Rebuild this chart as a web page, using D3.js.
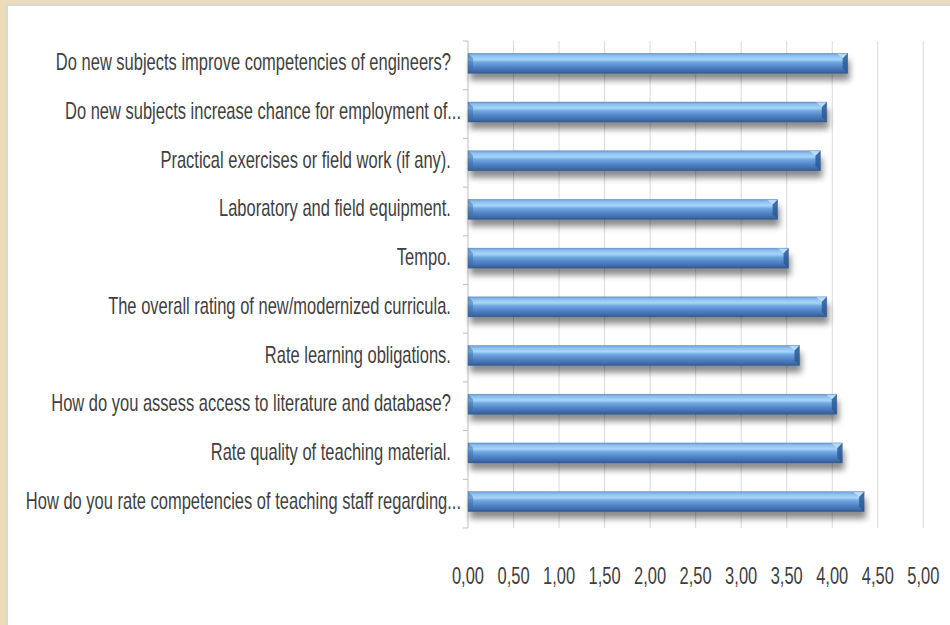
<!DOCTYPE html>
<html><head><meta charset="utf-8">
<script src="https://cdn.jsdelivr.net/npm/d3@7/dist/d3.min.js"></script>
<style>
html,body{margin:0;padding:0;background:#fff;}
svg{display:block;}
text{font-family:"Liberation Sans Narrow","Liberation Sans",Arial,sans-serif;fill:#3f3f3f;}
</style></head>
<body>
<script>
const categories = [
  "Do new subjects improve competencies of engineers? ",
  "Do new subjects increase chance for employment of...",
  "Practical exercises or field work (if any). ",
  "Laboratory and field equipment. ",
  "Tempo. ",
  "The overall rating of new/modernized curricula. ",
  "Rate learning obligations. ",
  "How do you assess access to literature and database? ",
  "Rate quality of teaching material. ",
  "How do you rate competencies of teaching staff regarding..."
];
const values = [4.17, 3.94, 3.87, 3.40, 3.52, 3.94, 3.64, 4.05, 4.11, 4.35];
const tickValues = [0, 0.5, 1, 1.5, 2, 2.5, 3, 3.5, 4, 4.5, 5];
const tickLabels = ["0,00","0,50","1,00","1,50","2,00","2,50","3,00","3,50","4,00","4,50","5,00"];

const W = 950, H = 625;
const svg = d3.select("body").append("svg").attr("width", W).attr("height", H);
const defs = svg.append("defs");

// frame
svg.append("rect").attr("x",0).attr("y",0).attr("width",W).attr("height",H).attr("fill","#ebdcb9");
svg.append("rect").attr("x",6).attr("y",4).attr("width",W-6).attr("height",H-4).attr("fill","#d9d9d9");
svg.append("rect").attr("x",8).attr("y",6).attr("width",W-8).attr("height",H-6).attr("fill","#ffffff");

const pL = 468, pR = 923.3, pT = 41, pB = 528;
const x = d3.scaleLinear().domain([0,5]).range([pL,pR]);
const y = d3.scaleBand().domain(categories).range([pT,pB]).paddingInner(0.59).paddingOuter(0.295);

// gradients
const g1 = defs.append("linearGradient").attr("id","barGrad").attr("x1",0).attr("y1",0).attr("x2",0).attr("y2",1);
[[0,"#6f9fd8"],[0.12,"#8cc0ee"],[0.3,"#a6d6fb"],[0.45,"#6fa6e0"],[0.7,"#4f82c4"],[0.9,"#3d6aa8"],[1,"#2f5690"]]
  .forEach(([o,c])=>g1.append("stop").attr("offset",o).attr("stop-color",c));
const blur = defs.append("filter").attr("id","shadow").attr("x","-10%").attr("y","-50%").attr("width","120%").attr("height","250%");
blur.append("feGaussianBlur").attr("stdDeviation",3);

// gridlines
svg.append("g").selectAll("line").data(tickValues.slice(1)).join("line")
  .attr("x1",d=>x(d)).attr("x2",d=>x(d)).attr("y1",pT).attr("y2",pB)
  .attr("stroke","#d9d9d9").attr("stroke-width",1);

// category axis line and ticks
const bands = d3.range(categories.length+1).map(i=>pT + i*(pB-pT)/categories.length);
svg.append("line").attr("x1",pL).attr("x2",pL).attr("y1",pT).attr("y2",pB).attr("stroke","#bfbfbf");
svg.append("g").selectAll("line").data(bands).join("line")
  .attr("x1",pL-5).attr("x2",pL).attr("y1",d=>d).attr("y2",d=>d).attr("stroke","#bfbfbf");

// bars
const bh = 20;
const bars = svg.append("g").selectAll("g").data(categories).join("g");
const yc = (c)=> y(c) + y.bandwidth()/2 - 2;
bars.append("rect").attr("x",pL+2).attr("y",(c)=>yc(c)-bh/2+7)
  .attr("width",(c,i)=>x(values[i])-pL).attr("height",bh)
  .attr("fill","#000").attr("opacity",0.45).attr("filter","url(#shadow)");
bars.append("rect").attr("x",pL).attr("y",c=>yc(c)-bh/2)
  .attr("width",(c,i)=>x(values[i])-pL).attr("height",bh)
  .attr("fill","url(#barGrad)");
// bevel end caps
const bv = 5;
bars.append("path").attr("d",(c,i)=>{
  const xe = x(values[i]), y0 = yc(c)-bh/2, y1 = yc(c)+bh/2;
  return `M${xe-bv},${y0+bv} L${xe},${y0} L${xe},${y1} L${xe-bv},${y1-bv} Z`;
}).attr("fill","#2d5a94").attr("opacity",0.85);
bars.append("path").attr("d",(c,i)=>{
  const xe = x(values[i]), y0 = yc(c)-bh/2;
  return `M${xe-bv},${y0+bv} L${xe},${y0} L${xe-bv-6},${y0} Z`;
}).attr("fill","#cfe8ff").attr("opacity",0.7);
bars.append("path").attr("d",(c,i)=>{
  const y0 = yc(c)-bh/2, y1 = yc(c)+bh/2;
  return `M${pL},${y0} L${pL+bv},${y0+bv} L${pL+bv},${y1-bv} L${pL},${y1} Z`;
}).attr("fill","#3a6aa8").attr("opacity",0.5);
bars.append("rect").attr("x",pL).attr("y",c=>yc(c)-bh/2)
  .attr("width",(c,i)=>x(values[i])-pL).attr("height",bh)
  .attr("fill","none").attr("stroke","#3c659b").attr("stroke-width",0.6).attr("opacity",0.6);

// category labels (trailing space rendered as a gap before the axis)
const fs = 23;
const labels = svg.append("g").selectAll("text").data(categories).join("text")
  .attr("x",461).attr("y",c=>y(c)+y.bandwidth()/2 - 3)
  .attr("dx",c=>c.endsWith(" ") ? -14 : 0)
  .attr("text-anchor","end").attr("dominant-baseline","central")
  .attr("font-size",fs).text(c=>c.trimEnd());
// fit widths to reference label widths (first and last labels)
const nodes = labels.nodes();
const w0 = nodes[0].getComputedTextLength(), w9 = nodes[nodes.length-1].getComputedTextLength();
const sx = (387 + 444) / (w0 + w9);
labels.attr("transform",`translate(${461*(1-sx)},0) scale(${sx},1)`);

// value axis labels
const tl = svg.append("g").selectAll("text").data(tickValues).join("text")
  .attr("x",d=>x(d)).attr("y",576).attr("text-anchor","middle").attr("dominant-baseline","central")
  .attr("font-size",fs).text((d,i)=>tickLabels[i]);
tl.attr("transform",d=>`translate(${x(d)*(1-sx)},0) scale(${sx},1)`);
</script>
</body></html>
